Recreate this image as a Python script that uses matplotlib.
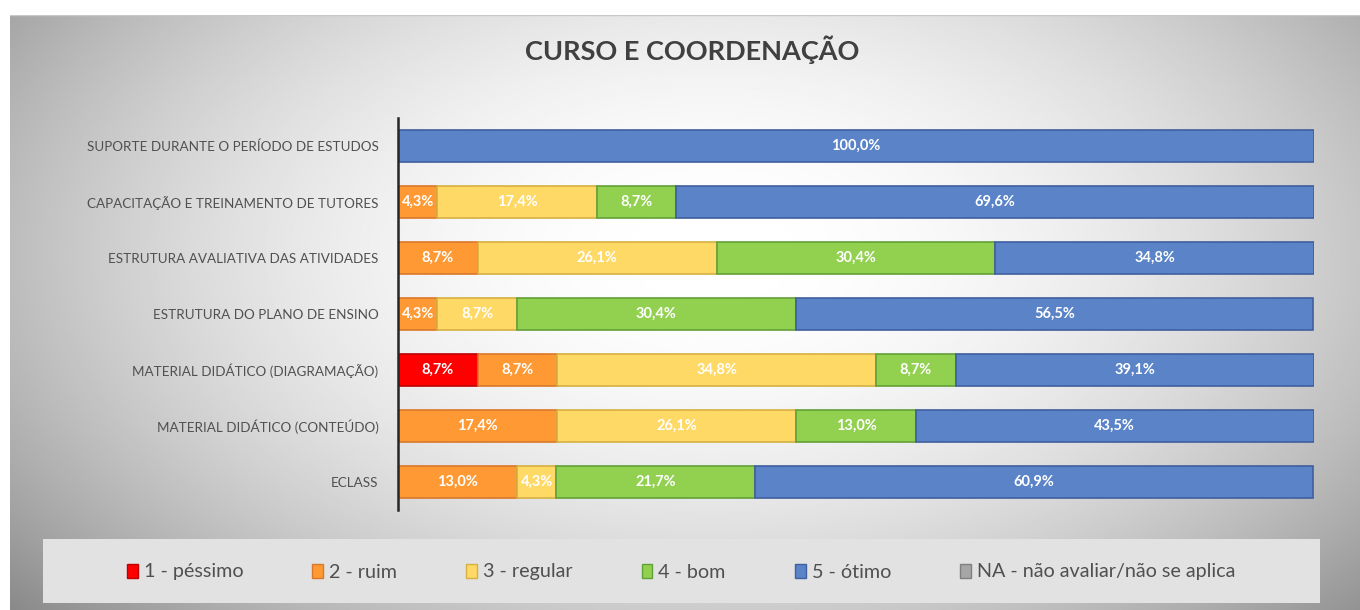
import numpy as np
import matplotlib
matplotlib.use("Agg")
import matplotlib.pyplot as plt
from matplotlib.patches import Rectangle, Patch

plt.rcParams['font.family'] = ['Lato', 'DejaVu Sans']

categories = [
    "ECLASS",
    "MATERIAL DIDÁTICO (CONTEÚDO)",
    "MATERIAL DIDÁTICO (DIAGRAMAÇÃO)",
    "ESTRUTURA DO PLANO DE ENSINO",
    "ESTRUTURA AVALIATIVA DAS ATIVIDADES",
    "CAPACITAÇÃO E TREINAMENTO DE TUTORES",
    "SUPORTE DURANTE O PERÍODO DE ESTUDOS",
]
series_names = ["1 - péssimo", "2 - ruim", "3 - regular", "4 - bom", "5 - ótimo",
                "NA - não avaliar/não se aplica"]
pessimo = [0, 0, 8.7, 0, 0, 0, 0]
ruim = [13.0, 17.4, 8.7, 4.3, 8.7, 4.3, 0]
regular = [4.3, 26.1, 34.8, 8.7, 26.1, 17.4, 0]
bom = [21.7, 13.0, 8.7, 30.4, 30.4, 8.7, 0]
otimo = [60.9, 43.5, 39.1, 56.5, 34.8, 69.6, 100.0]
na = [0, 0, 0, 0, 0, 0, 0]
title = "CURSO E COORDENAÇÃO"

series = [pessimo, ruim, regular, bom, otimo, na]
faces = ["#FF0000", "#FF9933", "#FFD966", "#92D050", "#5B84C8", "#A6A6A6"]
edges = ["#C00000", "#D9782A", "#D6B040", "#62A03A", "#3F5F9F", "#7F7F7F"]

W, H = 1360, 610
fig = plt.figure(figsize=(W / 100, H / 100), dpi=100)
fig.patch.set_facecolor("white")

# background radial gradient
bg = fig.add_axes([10 / W, 0, 1 - 10 / W, (H - 15) / H])
bg.set_axis_off()
ny, nx = 300, 700
yy, xx = np.mgrid[0:1:ny * 1j, 0:1:nx * 1j]
r2 = ((xx - 0.52) / 0.72) ** 2 + ((yy - 0.6) / 0.95) ** 2
val = np.clip(1 - 0.5 * r2, 0, 1)
bg.imshow(val, cmap="gray", vmin=0, vmax=1, aspect="auto",
          extent=[0, 1, 0, 1], origin="lower")
bg.set_xlim(0, 1)
bg.set_ylim(0, 1)
bg.plot([0, 1], [1, 1], color="#C8C8C8", lw=1)

# legend box
fig.patches.append(Rectangle((43 / W, 1 - 603 / H), (1320 - 43) / W, (603 - 539) / H,
                             transform=fig.transFigure, facecolor="#E2E2E2",
                             edgecolor="none", zorder=1))

ax = fig.add_axes([398 / W, 1 - 510 / H, (1314 - 398) / W, (510 - 118) / H])
ax.patch.set_alpha(0)
y = np.arange(len(categories))
left = np.zeros(len(categories))
for name, vals, fc, ec in zip(series_names, series, faces, edges):
    vals = np.array(vals, dtype=float)
    lws = [1.2 if v > 0 else 0 for v in vals]
    bars = ax.barh(y, vals, left=left, height=0.57, color=fc, edgecolor=ec,
                   linewidth=lws, label=name)
    for b, v in zip(bars, vals):
        if v > 0:
            ax.text(b.get_x() + b.get_width() / 2, b.get_y() + b.get_height() / 2,
                    f"{v:.1f}%".replace(".", ","), ha="center", va="center",
                    color="white", fontsize=10.5, fontweight="bold")
    left += vals

ax.set_xlim(0, 100)
ax.set_ylim(-0.5, len(categories) - 0.5)
ax.set_yticks(y)
ax.set_yticklabels(categories, fontsize=9.7, color="#505050")
ax.tick_params(axis="y", length=0, pad=14)
ax.set_xticks([])
for s in ["top", "right", "bottom"]:
    ax.spines[s].set_visible(False)
ax.spines["left"].set_color("#262626")
ax.spines["left"].set_linewidth(1.8)

fig.text(692 / W, 1 - 50 / H, title, ha="center", va="center", fontsize=19.5,
         fontweight="bold", color="#404040")

handles = [Patch(facecolor=fc, edgecolor=ec, linewidth=1) for fc, ec in zip(faces, edges)]
leg = fig.legend(handles, series_names, loc="center", ncol=6,
                 bbox_to_anchor=(681 / W, 1 - 572 / H), frameon=False,
                 fontsize=14.2, handlelength=0.55, handleheight=0.7, handletextpad=0.3,
                 columnspacing=3.5, labelcolor="#505050")

fig.savefig("out.png", dpi=100)
